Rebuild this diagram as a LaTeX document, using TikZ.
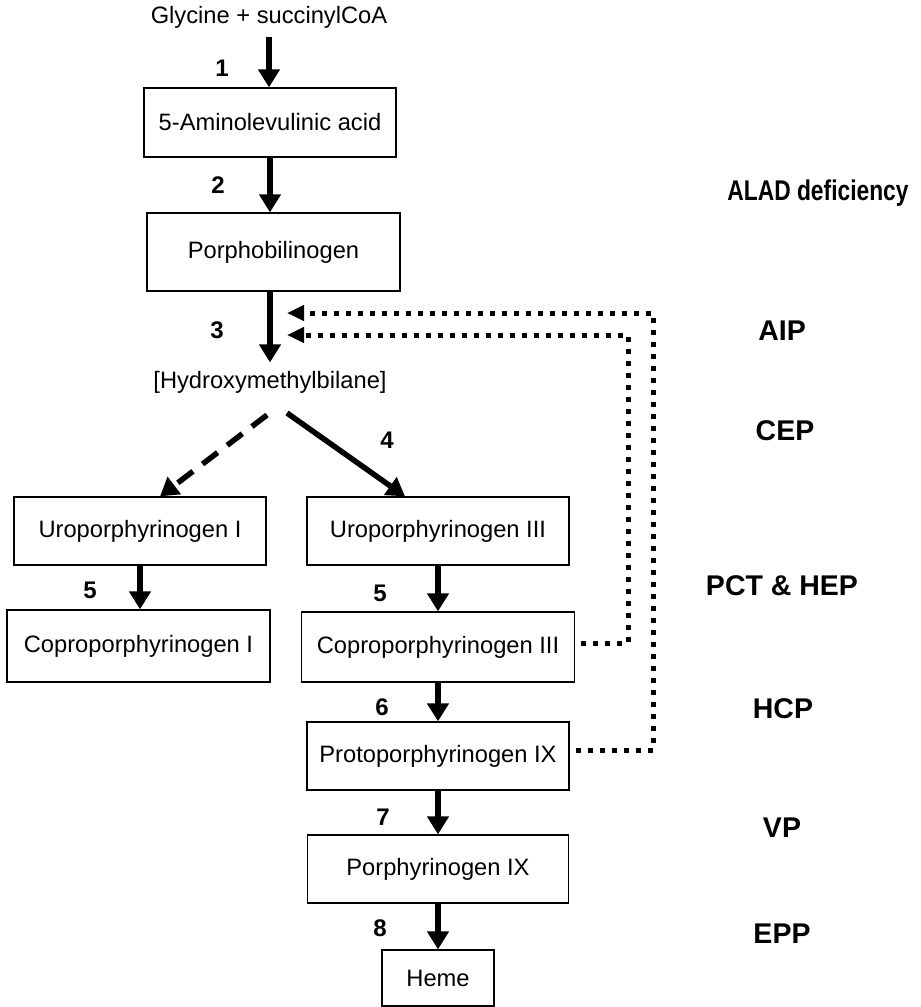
\documentclass[tikz,border=0pt]{standalone}
\usepackage{fontspec}
\setmainfont{Liberation Sans}
\usetikzlibrary{arrows.meta}

\newcommand{\boxfont}{\fontsize{23.7}{28}\selectfont}

\begin{document}
\begin{tikzpicture}[x=1pt,y=-1pt,
  box/.style={draw,line width=1.3pt,inner sep=0pt,font=\boxfont},
  flow/.style={-{Triangle[width=21pt,length=18pt]},line width=5.5pt},
  dashflow/.style={flow,dash pattern=on 19pt off 12pt},
  fb/.style={-{Triangle[width=15pt,length=17pt]},line width=5pt,dash pattern=on 5pt off 7pt},
  stepno/.style={anchor=base,font=\bfseries\fontsize{24}{28}\selectfont},
  disease/.style={anchor=base,font=\bfseries\fontsize{28.5}{32}\selectfont}]
  \useasboundingbox (0,0) rectangle (921,1007);

  \node[font=\boxfont] (gly) at (269,17) {Glycine + succinylCoA};
  \node[box,minimum width=252pt,minimum height=69pt] (ala) at (270,122.5) {5-Aminolevulinic acid};
  \node[box,minimum width=253pt,minimum height=78pt] (pbg) at (273.5,252) {Porphobilinogen};
  \node[font=\boxfont] (hmb) at (270,382) {[Hydroxymethylbilane]};
  \node[box,minimum width=252pt,minimum height=68pt] (uroI) at (140,531) {Uroporphyrinogen I};
  \node[box,minimum width=263pt,minimum height=72pt] (coproI) at (138.5,646) {Coproporphyrinogen I};
  \node[box,minimum width=262pt,minimum height=68pt] (uroIII) at (438,531) {Uroporphyrinogen III};
  \node[box,minimum width=273pt,minimum height=70pt] (coproIII) at (438,647) {Coproporphyrinogen III};
  \node[box,minimum width=262pt,minimum height=68pt] (proto) at (438,756) {Protoporphyrinogen IX};
  \node[box,minimum width=261pt,minimum height=68pt] (porph) at (438,869) {Porphyrinogen IX};
  \node[box,minimum width=112pt,minimum height=56pt] (heme) at (438,978) {Heme};

  \draw[flow,shorten <=5pt] (gly.south) -- (gly.south |- ala.north);
  \draw[flow] (ala.south) -- (ala.south |- pbg.north);
  \draw[flow,shorten >=5pt] (pbg.south -| hmb.north) -- (hmb.north);
  \coordinate (hmbL) at (267,415);
  \coordinate (hmbR) at (287,413);
  \draw[dashflow] (hmbL) -- ([xshift=20pt]uroI.north);
  \draw[flow] (hmbR) -- ([xshift=-33pt]uroIII.north);
  \draw[flow] (uroI.south) -- (uroI.south |- coproI.north);
  \draw[flow] (uroIII.south) -- (coproIII.north);
  \draw[flow] (coproIII.south) -- (proto.north);
  \draw[flow] (proto.south) -- (porph.north);
  \draw[flow] (porph.south) -- (heme.north);

  % feedback to step 3
  \coordinate (tipA) at (287,313);
  \coordinate (tipB) at (287,335);
  \coordinate (cornerA) at (653,313);
  \coordinate (cornerB) at (628,335);
  \draw[fb,shorten <=6pt] ([yshift=6pt]proto.east) -| (cornerA) -- (tipA);
  \draw[fb,shorten <=6pt] ([yshift=4pt]coproIII.east) -| (cornerB) -- (tipB);

  \node[stepno] (s1) at (222,76.5) {1};
  \node[stepno] (s2) at (218,193.5) {2};
  \node[stepno] (s3) at (217,338.5) {3};
  \node[stepno] (s4) at (387,448.5) {4};
  \node[stepno] (s5a) at (90,598.5) {5};
  \node[stepno] (s5b) at (380,601.5) {5};
  \node[stepno] (s6) at (382,715.5) {6};
  \node[stepno] (s7) at (383,825.5) {7};
  \node[stepno] (s8) at (380,936.5) {8};

  \node[disease] (alad) at (818,200) {\scalebox{0.8}[1]{ALAD deficiency}};
  \node[disease] (aip) at (782,340) {AIP};
  \node[disease] (cep) at (785,440) {CEP};
  \node[disease] (pct) at (782,595) {PCT \& HEP};
  \node[disease] (hcp) at (783,718) {HCP};
  \node[disease] (vp) at (782,837) {VP};
  \node[disease] (epp) at (782,943) {EPP};
\end{tikzpicture}
\end{document}
